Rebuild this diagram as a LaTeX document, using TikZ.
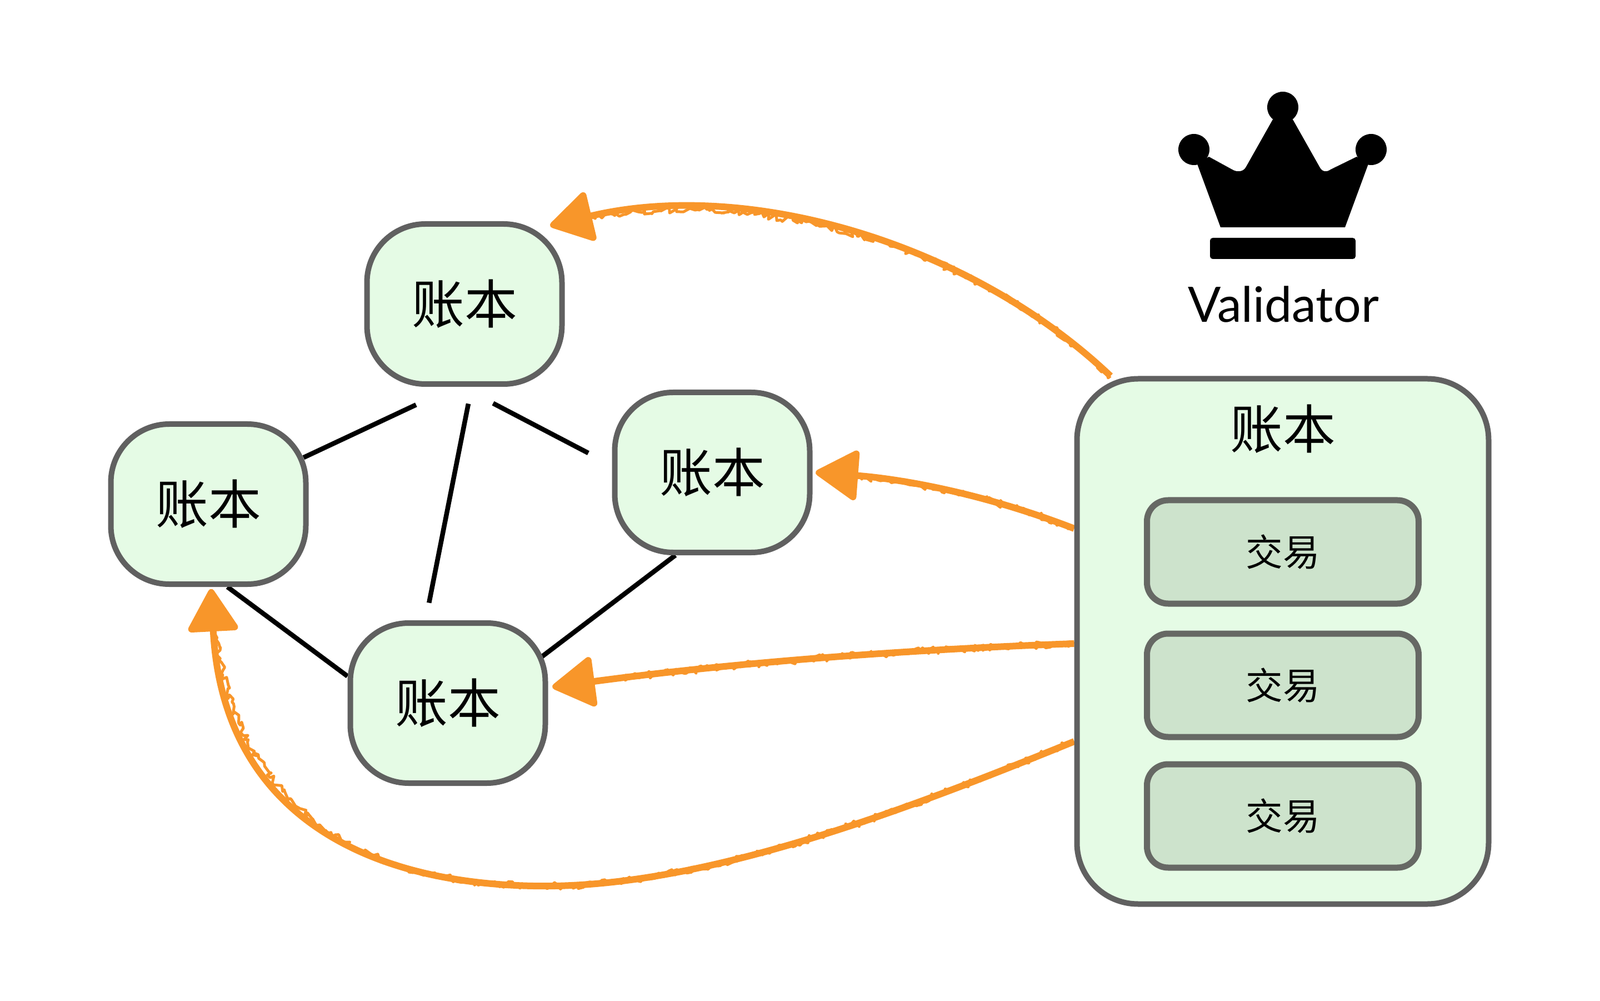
\documentclass[tikz,border=0pt]{standalone}
\usepackage{fontspec}
\setmainfont{Lato}
\newfontfamily\cjk{Noto Sans CJK SC}
\usepackage{tikz}
\usetikzlibrary{arrows.meta,backgrounds,decorations.pathmorphing}
\usepackage{xcolor}
\definecolor{ledgerfill}{HTML}{E5FBE5}
\definecolor{ledgerline}{HTML}{606060}
\definecolor{txfill}{HTML}{CDE3CC}
\definecolor{txline}{HTML}{666864}
\definecolor{crayon}{HTML}{F8962A}

\tikzset{
  ledger/.style={draw=ledgerline,fill=ledgerfill,line width=0.1cm,rounded corners=1.05cm,
    minimum width=3.51cm,minimum height=2.88cm,inner sep=0pt,font=\cjk\fontsize{27}{30}\selectfont},
  ledgerbig/.style={ledger,rounded corners=1.1cm,minimum width=7.41cm,minimum height=9.45cm},
  tx/.style={draw=txline,fill=txfill,line width=0.11cm,rounded corners=0.38cm,
    minimum width=4.89cm,minimum height=1.86cm,inner sep=0pt,font=\cjk\fontsize{19}{22}\selectfont},
  link/.style={black,line width=0.085cm},
  crayonline/.style={crayon,line width=0.12cm,line join=round,
    -{Triangle[length=0.82cm,width=0.96cm,round]},
    postaction={draw,-,line width=0.05cm,line join=round,decorate,
      decoration={random steps,segment length=1.5pt,amplitude=1.8pt,post length=0.8cm}}}
}

\begin{document}
\begin{tikzpicture}
\useasboundingbox (0,0) rectangle (28.8,18);
% ledgers on the left
\node[ledger] (ledgerT) at (8.36,12.53) {账本};
\node[ledger] (ledgerL) at (3.75,8.93) {账本};
\node[ledger] (ledgerR) at (12.82,9.5) {账本};
\node[ledger] (ledgerB) at (8.06,5.35) {账本};
% validator
\node[ledgerbig] (ledgerV) at (23.09,6.46) {};
\node[font=\cjk\fontsize{27}{30}\selectfont] (ledgerVtext) at (23.09,10.28) {账本};
\node[tx] (txA) at (23.09,8.07) {交易};
\node[tx] (txB) at (23.09,5.67) {交易};
\node[tx] (txC) at (23.09,3.32) {交易};
\node[anchor=base,font=\fontsize{25}{30}\selectfont] (validator) at (23.1,12.2) {Validator};
% crown
\fill (21.55,15.05) -- (21.97,13.91) -- (24.21,13.91) -- (24.63,15.05) -- (24.42,15.18)
  -- (23.95,14.95) .. controls (23.88,14.9) and (23.8,14.9) .. (23.75,15)
  -- (23.27,15.85) -- (22.91,15.85) -- (22.43,15) .. controls (22.38,14.9) and (22.26,14.9) .. (22.18,14.95)
  -- (21.76,15.18) -- cycle;
\fill (23.09,16.07) circle (0.28);
\fill (21.49,15.31) circle (0.28);
\fill (24.68,15.31) circle (0.28);
\fill[rounded corners=0.05cm] (21.78,13.34) rectangle (24.4,13.72);
% links and crayon arrows
\begin{pgfonlayer}{background}
\draw[link] (ledgerL.-77) -- (ledgerB.165);
\draw[link,shorten <=-0.1cm,shorten >=0.76cm] (ledgerL.26) -- (ledgerT.-97);
\draw[link,shorten <=0.31cm,shorten >=0.32cm] (ledgerT.-85) -- (ledgerB.105);
\draw[link,shorten <=0.64cm,shorten >=0.48cm] (ledgerT.-92) -- (ledgerR.176.5);
\draw[link,shorten >=-0.2cm] (ledgerR.-114.5) -- (ledgerB.27.6);
\draw[crayonline] (ledgerV.123.3) .. controls (17.5,13.6) and (13.5,14.8) .. ([shift={(-0.26,-0.08)}]ledgerT.north east);
\draw[crayonline] ([yshift=2.03cm]ledgerV.west) .. controls (17.5,9.2) and (16,9.4) .. ([xshift=0.06cm]ledgerR.east);
\draw[crayonline] ([yshift=-0.04cm]ledgerV.west) .. controls (16,6.3) and (13,6.05) .. ([shift={(0.08,0.29)}]ledgerB.east);
\draw[crayonline] ([yshift=-1.8cm]ledgerV.west) .. controls (16,3.3) and (12.5,2) .. (9.6,2.06)
  .. controls (6.4,2.12) and (4,3.5) .. ([shift={(0.05,-0.04)}]ledgerL.south);
\end{pgfonlayer}
\end{tikzpicture}
\end{document}
